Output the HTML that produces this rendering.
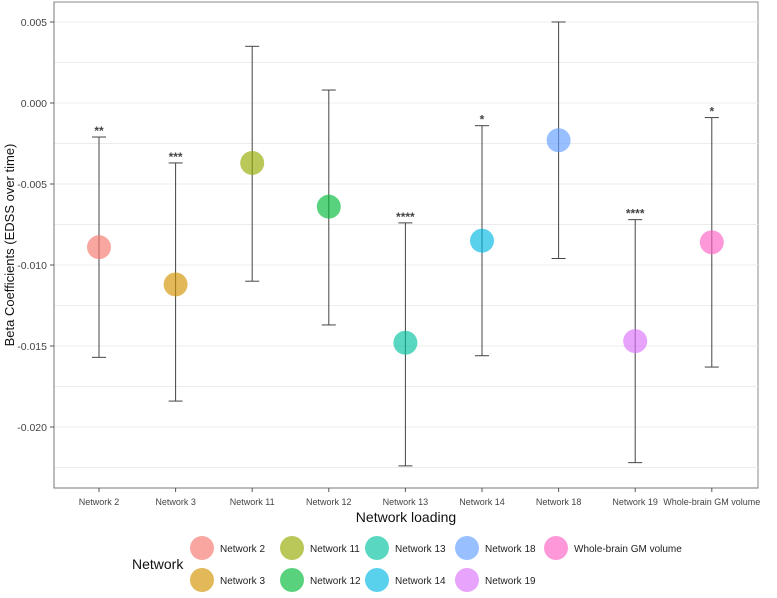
<!DOCTYPE html>
<html><head><meta charset="utf-8"><style>
body{margin:0;background:#fff;font-family:"Liberation Sans",sans-serif}
svg text{font-family:"Liberation Sans",sans-serif}
</style></head><body>
<svg id="chart" width="777" height="593"></svg>
<script>
const categories=["Network 2","Network 3","Network 11","Network 12","Network 13","Network 14","Network 18","Network 19","Whole-brain GM volume"];
const estimates=[-0.0089,-0.0112,-0.0037,-0.0064,-0.0148,-0.0085,-0.0023,-0.0147,-0.0086];
const upper=[-0.0021,-0.0037,0.0035,0.0008,-0.0074,-0.0014,0.0050,-0.0072,-0.0009];
const lower=[-0.0157,-0.0184,-0.0110,-0.0137,-0.0224,-0.0156,-0.0096,-0.0222,-0.0163];
const stars=["**","***","","","****","*","","****","*"];
const colors=["#F8766D","#D39200","#93AA00","#00BA38","#00C19F","#00B9E3","#619CFF","#DB72FB","#FF61C3"];
const yTicks=[0.005,0,-0.005,-0.010,-0.015,-0.020];
const yTickLabels=["0.005","0.000","-0.005","-0.010","-0.015","-0.020"];
const NS="http://www.w3.org/2000/svg";
const svg=document.getElementById('chart');
const L=54,R=758,T=2,B=488;
const y=v=>103-v*16200;
const x=i=>99+i*76.6;
function mk(t,a,p){const e=document.createElementNS(NS,t);for(const k in a)e.setAttribute(k,a[k]);(p||svg).appendChild(e);return e;}
const bg=mk('rect',{x:L,y:T,width:R-L,height:B-T,fill:'#fff',stroke:'#888','stroke-width':1});


for(let v=0.0075;v>-0.025;v-=0.0025){const yy=y(v);if(yy<T||yy>B)continue;
const g=mk('line',{x1:L,x2:R,y1:yy,y2:yy,stroke:'#ececec','stroke-width':1});

}
mk('line',{x1:L,x2:L,y1:T,y2:B,stroke:'#777'});
mk('line',{x1:L,x2:R,y1:B,y2:B,stroke:'#777'});
yTicks.forEach((v,i)=>{mk('line',{x1:L-4,x2:L,y1:y(v),y2:y(v),stroke:'#555'});
const t=mk('text',{x:L-7,y:y(v)+4,'text-anchor':'end','font-size':10.5,fill:'#444'});t.textContent=yTickLabels[i];

});
categories.forEach((c,i)=>{const cx=x(i);
mk('line',{x1:cx,x2:cx,y1:B,y2:B+4,stroke:'#555'});
const t=mk('text',{x:cx,y:B+17,'text-anchor':'middle','font-size':9,fill:'#444'});t.textContent=c;


const g=mk('g',{});


mk('line',{x1:cx,x2:cx,y1:y(upper[i]),y2:y(lower[i]),stroke:'#444','stroke-width':1},g);
mk('line',{x1:cx-7,x2:cx+7,y1:y(upper[i]),y2:y(upper[i]),stroke:'#444'},g);
mk('line',{x1:cx-7,x2:cx+7,y1:y(lower[i]),y2:y(lower[i]),stroke:'#444'},g);
const p=mk('circle',{cx:cx,cy:y(estimates[i]),r:12,fill:colors[i],'fill-opacity':0.65});


if(stars[i]){const s=mk('text',{x:cx,y:y(upper[i])-2,'text-anchor':'middle','font-size':12,'font-weight':'bold',fill:'#444'});s.textContent=stars[i];

}
});
const xt=mk('text',{x:(L+R)/2,y:522,'text-anchor':'middle','font-size':14,fill:'#111'});xt.textContent='Network loading';


const yt=mk('text',{x:0,y:0,'text-anchor':'middle','font-size':13,fill:'#111',transform:'translate(14,245) rotate(-90)'});yt.textContent='Beta Coefficients (EDSS over time)';


const lt=mk('text',{x:132,y:569,'font-size':14,fill:'#111'});lt.textContent='Network';


const legOrder=[[0,202,548],[1,202,580],[2,292,548],[3,292,580],[4,377,548],[5,377,580],[6,467,548],[7,467,580],[8,556,548]];
legOrder.forEach(([i,lx,ly])=>{const g=mk('g',{});


mk('circle',{cx:lx,cy:ly,r:12,fill:colors[i],'fill-opacity':0.65},g);
const t=mk('text',{x:lx+18,y:ly+4,'font-size':10,fill:'#222'},g);t.textContent=categories[i];});
</script>
</body></html>
